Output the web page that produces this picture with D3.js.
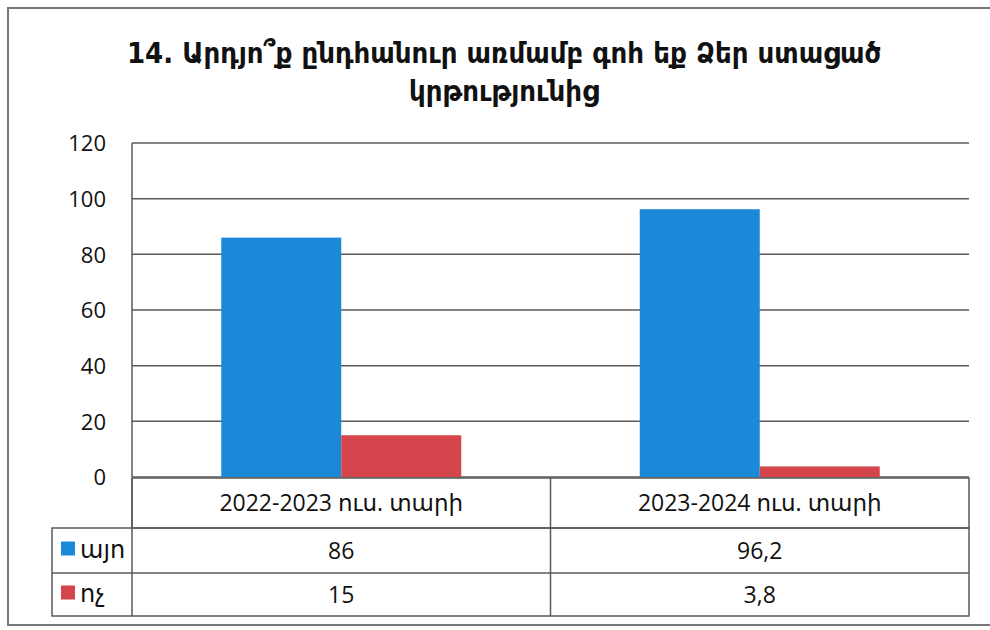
<!DOCTYPE html>
<html>
<head>
<meta charset="utf-8">
<script src="https://cdn.jsdelivr.net/npm/d3@7"></script>
<style>
  body { margin: 0; background: #fff; }
  text { font-family: "Liberation Sans", "DejaVu Sans", Arial, sans-serif; fill: #111; }
  .title { font-family: "DejaVu Sans Condensed", "DejaVu Sans", sans-serif; font-stretch: condensed; }
  .num { font-family: "Open Sans", "Noto Sans", "DejaVu Sans", sans-serif; }
</style>
</head>
<body>
<div id="chart"></div>
<script>
var width = 990;
var height = 630;

// data
var titleLines = ["14. Արդյո՞ք ընդհանուր առմամբ գոհ եք Ձեր ստացած", "կրթությունից"];
var categories = ["2022-2023 ուս. տարի", "2023-2024 ուս. տարի"];
var seriesNames = ["այո", "ոչ"];
var seriesColors = ["#1c88d8", "#d4464b"];
var yesValues = [86, 96.2];
var noValues = [15, 3.8];
var valueLabels = [["86", "96,2"], ["15", "3,8"]];
var yTicks = [0, 20, 40, 60, 80, 100, 120];

var series = [yesValues, noValues];

var svg = d3.select("#chart").append("svg")
    .attr("width", width)
    .attr("height", height);

// outer frame
svg.append("path")
    .attr("d", "M996,8 L8,8 L8,625 L996,625")
    .attr("fill", "none")
    .attr("stroke", "#777")
    .attr("stroke-width", 2);

// title
svg.selectAll(".title")
    .data(titleLines)
    .enter().append("text")
    .attr("class", "title")
    .attr("x", 504)
    .attr("y", function(d, i) { return 63 + i * 38; })
    .attr("text-anchor", "middle")
    .style("font-size", "29px")
    .style("font-weight", "bold")
    .text(function(d) { return d; });

var plotLeft = 132, plotRight = 969, plotTop = 143, plotBottom = 477;

var yScale = d3.scaleLinear()
    .domain([0, 120])
    .range([plotBottom, plotTop]);

var xScale = d3.scaleBand()
    .domain(categories)
    .range([plotLeft, plotRight]);

var xInner = d3.scaleBand()
    .domain(d3.range(series.length))
    .range([0, 240]);

// gridlines
svg.selectAll(".grid")
    .data(yTicks)
    .enter().append("line")
    .attr("x1", plotLeft)
    .attr("x2", plotRight)
    .attr("y1", function(d) { return yScale(d); })
    .attr("y2", function(d) { return yScale(d); })
    .attr("stroke", "#5a5a5a")
    .attr("stroke-width", 1.5);

// y axis line
svg.append("line")
    .attr("x1", plotLeft).attr("x2", plotLeft)
    .attr("y1", plotTop).attr("y2", plotBottom)
    .attr("stroke", "#5a5a5a")
    .attr("stroke-width", 1.5);

// y tick labels
var yAxis = d3.axisLeft(yScale).tickValues(yTicks).tickSize(0).tickPadding(0);
var yg = svg.append("g")
    .attr("transform", "translate(106,0)")
    .call(yAxis);
yg.select(".domain").remove();
yg.selectAll("text")
    .attr("class", "num")
    .attr("fill", "#111")
    .style("font-size", "22px")
    .attr("dy", "0.35em");

// bars
series.forEach(function(vals, si) {
    svg.selectAll(".bar" + si)
        .data(vals)
        .enter().append("rect")
        .attr("x", function(d, i) {
            return xScale(categories[i]) + xScale.bandwidth() / 2 - 120 + xInner(si);
        })
        .attr("y", function(d) { return yScale(d); })
        .attr("width", xInner.bandwidth())
        .attr("height", function(d) { return yScale(0) - yScale(d); })
        .attr("fill", seriesColors[si]);
});

// data table
var tableLeft = 52;
var rowEdges = [478, 528, 573, 616];
var lineColor = "#5a5a5a";

// header row
svg.append("rect")
    .attr("x", plotLeft).attr("y", rowEdges[0])
    .attr("width", plotRight - plotLeft).attr("height", rowEdges[1] - rowEdges[0])
    .attr("fill", "none").attr("stroke", lineColor).attr("stroke-width", 1.5);
// value rows
svg.append("rect")
    .attr("x", tableLeft).attr("y", rowEdges[1])
    .attr("width", plotRight - tableLeft).attr("height", rowEdges[3] - rowEdges[1])
    .attr("fill", "none").attr("stroke", lineColor).attr("stroke-width", 1.5);
svg.append("line")
    .attr("x1", tableLeft).attr("x2", plotRight)
    .attr("y1", rowEdges[2]).attr("y2", rowEdges[2])
    .attr("stroke", lineColor).attr("stroke-width", 1.5);
// column separators
svg.append("line")
    .attr("x1", plotLeft).attr("x2", plotLeft)
    .attr("y1", rowEdges[0]).attr("y2", rowEdges[3])
    .attr("stroke", lineColor).attr("stroke-width", 1.5);
svg.append("line")
    .attr("x1", xScale(categories[1])).attr("x2", xScale(categories[1]))
    .attr("y1", rowEdges[0]).attr("y2", rowEdges[3])
    .attr("stroke", lineColor).attr("stroke-width", 1.5);

// header texts
svg.selectAll(".head")
    .data(categories)
    .enter().append("text")
    .attr("class", "num")
    .attr("x", function(d) { return xScale(d) + xScale.bandwidth() / 2; })
    .attr("y", 511)
    .attr("text-anchor", "middle")
    .style("font-size", "23px")
    .text(function(d) { return d; });

// legend keys and values
seriesNames.forEach(function(name, si) {
    var mid = (rowEdges[si + 1] + rowEdges[si + 2]) / 2;
    svg.append("rect")
        .attr("x", 61).attr("y", mid - 9)
        .attr("width", 14).attr("height", 14)
        .attr("fill", seriesColors[si]);
    svg.append("text")
        .attr("class", "num")
        .attr("x", 80).attr("y", mid + 7)
        .style("font-size", "24px")
        .text(name);
    svg.selectAll(".val" + si)
        .data(valueLabels[si])
        .enter().append("text")
        .attr("class", "num")
        .attr("x", function(d, i) { return xScale(categories[i]) + xScale.bandwidth() / 2; })
        .attr("y", mid + 8)
        .attr("text-anchor", "middle")
        .style("font-size", "23px")
        .text(function(d) { return d; });
});
</script>
</body>
</html>
